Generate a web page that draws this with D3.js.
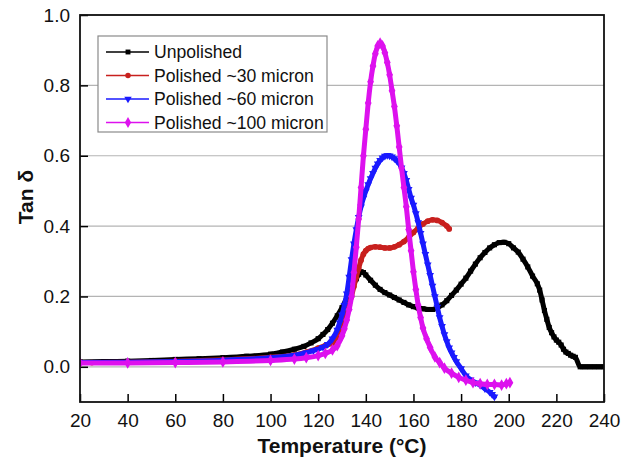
<!DOCTYPE html>
<html>
<head>
<meta charset="utf-8">
<script src="https://cdn.jsdelivr.net/npm/d3@7"></script>
<style>
    body { margin: 0; background: #fff; }
    svg { display: block; font-family: "Liberation Sans", Arial, sans-serif; }
</style>
</head>
<body>
<svg id="chart"></svg>
<script>
// series data: [temperature °C, tan δ]
const unpolished = [
    [20, 0.014], [30, 0.015], [40, 0.016], [50, 0.018], [60, 0.021], [70, 0.023], [80, 0.026], [90, 0.030],
    [100, 0.036], [105, 0.042], [110, 0.050], [114, 0.058], [117, 0.068], [120, 0.080], [122, 0.092],
    [124, 0.106], [126, 0.124], [128, 0.145], [130, 0.168], [132, 0.195], [134, 0.222], [136, 0.250],
    [137, 0.263], [138, 0.270], [139, 0.268], [140, 0.261], [142, 0.246], [144, 0.232], [146, 0.220],
    [148, 0.211], [150, 0.204], [152, 0.197], [154, 0.190], [156, 0.183], [158, 0.176], [160, 0.171],
    [162, 0.167], [164, 0.165], [166, 0.163], [168, 0.163], [170, 0.167], [172, 0.176], [174, 0.188],
    [176, 0.203], [178, 0.218], [180, 0.235], [182, 0.252], [184, 0.272], [186, 0.292], [188, 0.310],
    [190, 0.325], [192, 0.338], [194, 0.347], [196, 0.353], [198, 0.354], [200, 0.350], [202, 0.338],
    [204, 0.326], [206, 0.306], [208, 0.284], [210, 0.258], [212, 0.236], [213, 0.218], [214, 0.190],
    [215, 0.160], [216, 0.135], [217, 0.112], [218, 0.097], [219, 0.085], [220, 0.076], [221, 0.070],
    [222, 0.062], [223, 0.050], [224, 0.042], [225, 0.038], [226, 0.033], [227, 0.030], [228, 0.027],
    [230, 0.0], [232, 0.0], [234, 0.0], [236, 0.0], [238, 0.0], [240, 0.0]
];
const polished30 = [
    [25, 0.012], [40, 0.013], [60, 0.016], [80, 0.020], [100, 0.027], [110, 0.034], [115, 0.042],
    [120, 0.053], [123, 0.060], [126, 0.068], [128, 0.086], [130, 0.108], [132, 0.150], [133, 0.175],
    [134, 0.200], [135, 0.228], [136, 0.255], [137, 0.280], [138, 0.303], [139, 0.320], [140, 0.330],
    [141, 0.336], [142, 0.339], [144, 0.341], [146, 0.340], [148, 0.338], [150, 0.338], [152, 0.341],
    [154, 0.347], [156, 0.356], [158, 0.368], [160, 0.382], [162, 0.395], [164, 0.406], [166, 0.414],
    [168, 0.418], [170, 0.416], [172, 0.410], [174, 0.400], [175, 0.392]
];
const polished60 = [
    [20, 0.012], [40, 0.013], [60, 0.015], [80, 0.019], [100, 0.026], [110, 0.033], [115, 0.040],
    [118, 0.046], [120, 0.050], [122, 0.056], [124, 0.064], [126, 0.080], [128, 0.105], [129, 0.125],
    [130, 0.148], [131, 0.175], [132, 0.208], [133, 0.255], [134, 0.305], [135, 0.350], [136, 0.390],
    [137, 0.425], [138, 0.455], [139, 0.480], [140, 0.500], [141, 0.518], [142, 0.535], [143, 0.550],
    [144, 0.565], [145, 0.577], [146, 0.587], [147, 0.594], [148, 0.599], [149, 0.601], [150, 0.600],
    [151, 0.597], [152, 0.592], [153, 0.586], [154, 0.578], [155, 0.566], [156, 0.550], [157, 0.530],
    [158, 0.505], [159, 0.480], [160, 0.460], [161, 0.436], [162, 0.410], [163, 0.380], [164, 0.350],
    [165, 0.320], [166, 0.290], [167, 0.260], [168, 0.230], [169, 0.200], [170, 0.170], [171, 0.140],
    [172, 0.115], [173, 0.092], [174, 0.072], [175, 0.054], [176, 0.040], [177, 0.027], [178, 0.015],
    [180, -0.005], [182, -0.025], [184, -0.037], [186, -0.045], [188, -0.052], [190, -0.062],
    [192, -0.072], [193, -0.078], [194, -0.085]
];
const polished100 = [
    [20, 0.011], [40, 0.011], [60, 0.012], [80, 0.014], [100, 0.018], [110, 0.022], [115, 0.026],
    [120, 0.032], [123, 0.038], [126, 0.048], [128, 0.060], [130, 0.088], [131, 0.108], [132, 0.133],
    [133, 0.163], [134, 0.200], [135, 0.268], [136, 0.340], [137, 0.420], [138, 0.510], [139, 0.600],
    [140, 0.675], [141, 0.750], [142, 0.810], [143, 0.855], [144, 0.890], [145, 0.912], [146, 0.920],
    [147, 0.912], [148, 0.893], [149, 0.865], [150, 0.830], [151, 0.785], [152, 0.740], [153, 0.685],
    [154, 0.625], [155, 0.565], [156, 0.510], [157, 0.455], [158, 0.390], [159, 0.330], [160, 0.270],
    [161, 0.220], [162, 0.175], [163, 0.140], [164, 0.110], [165.5, 0.080], [167, 0.055], [169, 0.028],
    [171, 0.012], [173, -0.004], [176, -0.018], [179, -0.030], [182, -0.038], [185, -0.045],
    [188, -0.048], [191, -0.050], [194, -0.050], [197, -0.052], [199, -0.048], [200.5, -0.045]
];

const seriesNames = ["Unpolished", "Polished ~30 micron", "Polished ~60 micron", "Polished ~100 micron"];
const seriesData = [unpolished, polished30, polished60, polished100];
const seriesColors = ["#000000", "#c8201e", "#1a1aff", "#dd11ee"];
const seriesSymbols = [d3.symbolSquare, d3.symbolCircle, d3.symbolTriangle, d3.symbolDiamond];

const xTicks = [20, 40, 60, 80, 100, 120, 140, 160, 180, 200, 220, 240];
const yTicks = [0.0, 0.2, 0.4, 0.6, 0.8, 1.0];

const WIDTH = 633, HEIGHT = 462;
const LEFT = 80, RIGHT = 604, TOP = 15, BOTTOM = 402;

const svg = d3.select("#chart")
    .attr("width", WIDTH)
    .attr("height", HEIGHT);

const x = d3.scaleLinear().domain([20, 240]).range([LEFT, RIGHT]);
const y = d3.scaleLinear().domain([-0.1, 1.0]).range([BOTTOM, TOP]);

// horizontal grid
svg.append("g")
    .selectAll("line")
    .data(yTicks)
    .join("line")
    .attr("x1", LEFT)
    .attr("x2", RIGHT)
    .attr("y1", d => y(d))
    .attr("y2", d => y(d))
    .style("stroke", "#b4b4b4")
    .style("stroke-width", 1.2);

// axes
const xAxis = svg.append("g")
    .attr("transform", `translate(0,${BOTTOM})`)
    .call(d3.axisBottom(x).tickValues(xTicks).tickSizeInner(-8).tickSizeOuter(0).tickPadding(12));
const yAxis = svg.append("g")
    .attr("transform", `translate(${LEFT},0)`)
    .call(d3.axisLeft(y).tickValues(yTicks).tickFormat(d3.format(".1f")).tickSizeInner(-8).tickSizeOuter(0).tickPadding(10));

[xAxis, yAxis].forEach(function (ax) {
    ax.select(".domain").remove();
    ax.selectAll(".tick line").style("stroke", "#000").style("stroke-width", 1.5);
    ax.selectAll(".tick text").style("font-size", "19px").style("fill", "#111");
});
xAxis.selectAll(".tick text").attr("dy", "0.71em");

// curves
svg.append("clipPath").attr("id", "plotClip")
    .append("rect")
    .attr("x", LEFT).attr("y", TOP)
    .attr("width", RIGHT - LEFT).attr("height", BOTTOM - TOP);

const line = d3.line()
    .x(d => x(d[0]))
    .y(d => y(d[1]))
    .curve(d3.curveMonotoneX);

const plot = svg.append("g").attr("clip-path", "url(#plotClip)");

seriesData.forEach(function (data, i) {
    const g = plot.append("g").attr("class", "series");
    g.append("path")
        .datum(data)
        .attr("d", line)
        .style("fill", "none")
        .style("stroke", seriesColors[i])
        .style("stroke-width", 5)
        .style("stroke-linejoin", "round")
        .style("stroke-linecap", "round");
    g.selectAll("path.mark")
        .data(data)
        .join("path")
        .attr("class", "mark")
        .attr("transform", d => `translate(${[x(d[0]), y(d[1])]})` + (i == 2 ? " rotate(180)" : ""))
        .attr("d", d3.symbol().type(seriesSymbols[i]).size(i == 3 ? 40 : 26))
        .style("fill", seriesColors[i]);
});

// frame
svg.append("rect")
    .attr("x", LEFT)
    .attr("y", TOP)
    .attr("width", RIGHT - LEFT)
    .attr("height", BOTTOM - TOP)
    .style("fill", "none")
    .style("stroke", "#111")
    .style("stroke-width", 1.8);

// legend
const legend = svg.append("g").attr("transform", "translate(98,36)");
legend.append("rect")
    .attr("width", 229)
    .attr("height", 96)
    .style("fill", "#fff")
    .style("stroke", "#8a8a8a")
    .style("stroke-width", 1.2);

const rows = legend.selectAll("g.row")
    .data(seriesNames)
    .join("g")
    .attr("class", "row")
    .attr("transform", (d, i) => `translate(0,${16 + i * 23.5})`);
rows.append("line")
    .attr("x1", 8).attr("x2", 51)
    .style("stroke", (d, i) => seriesColors[i])
    .style("stroke-width", 1.3);
rows.append("path")
    .attr("transform", (d, i) => "translate(30,0)" + (i == 2 ? " rotate(180)" : ""))
    .attr("d", (d, i) => d3.symbol().type(seriesSymbols[i]).size(i == 3 ? 34 : 24)())
    .style("fill", (d, i) => seriesColors[i]);
rows.append("text")
    .attr("x", 56)
    .attr("dy", "0.36em")
    .style("font-size", "17.6px")
    .style("fill", "#111")
    .text(d => d);

// axis titles
svg.append("text")
    .attr("x", (LEFT + RIGHT) / 2)
    .attr("y", 453)
    .attr("text-anchor", "middle")
    .style("font-size", "21px")
    .style("font-weight", "bold")
    .style("fill", "#111")
    .text("Temperature (°C)");
svg.append("text")
    .attr("transform", "translate(33,197) rotate(-90)")
    .attr("text-anchor", "middle")
    .style("font-size", "21px")
    .style("font-weight", "bold")
    .style("fill", "#111")
    .text("Tan δ");
</script>
</body>
</html>
